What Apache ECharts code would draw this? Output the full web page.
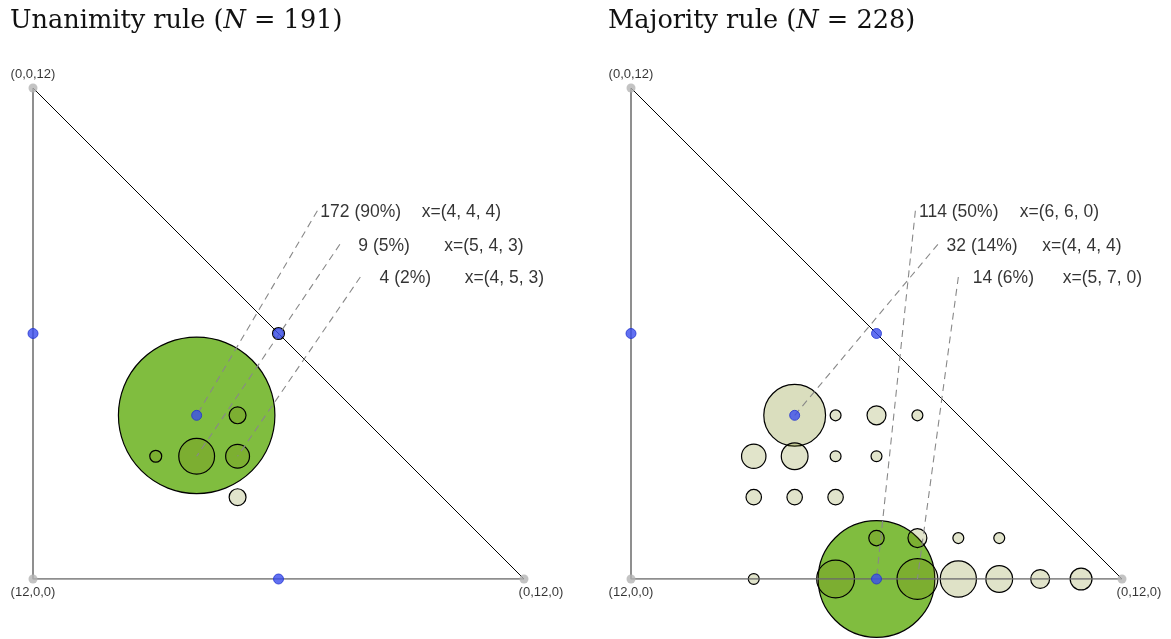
<!DOCTYPE html>
<html>
<head>
<meta charset="utf-8">
<script src="https://cdn.jsdelivr.net/npm/echarts@6/dist/echarts.min.js"></script>
<style>
  html, body { margin: 0; padding: 0; background: #fff; }
  #chart { width: 1171px; height: 639px; }
</style>
</head>
<body>
<div id="chart"></div>
<script>
// 三角形顶点 (a, b, c)，a+b+c=12
const triangleVertices = [[0, 0, 12], [12, 0, 0], [0, 12, 0]];
// 蓝色标记点
const equilibria = [[6, 0, 6], [0, 6, 6], [6, 6, 0], [4, 4, 4]];

// Unanimity rule
const unanimityProfiles = [[4, 4, 4], [5, 4, 3], [4, 5, 3], [3, 5, 4], [6, 3, 3], [5, 5, 2], [0, 6, 6]];
const unanimityCounts = [172, 9, 4, 2, 1, 2, 1];

// Majority rule
const majorityProfiles = [
  [6, 6, 0], [4, 4, 4], [5, 7, 0], [7, 5, 0], [4, 8, 0], [5, 4, 3], [6, 3, 3], [3, 9, 0],
  [1, 11, 0], [2, 6, 4], [4, 7, 1], [2, 10, 0], [7, 3, 2], [6, 4, 2], [5, 5, 2], [5, 6, 1],
  [3, 5, 4], [1, 7, 4], [4, 5, 3], [3, 6, 3], [3, 8, 1], [2, 9, 1], [9, 3, 0]
];
const majorityCounts = [114, 32, 14, 12, 11, 6, 5, 6, 4, 3, 3, 3, 2, 2, 2, 2, 1, 1, 1, 1, 1, 1, 1];

const panelTitles = ['Unanimity rule', 'Majority rule'];

// 布局
const GRID_SIZE = 491;
const gridLefts = [33, 631];
const GRID_TOP = 88;
const unitPx = GRID_SIZE / 12;
const R_SCALE = 2.015 * unitPx;           // 半径 = R_SCALE * sqrt(份额)
const labelRows = [[6.95, 9.0], [7.5, 8.18], [8.0, 7.38]]; // 虚线起点（数据单位）

const panels = [
  { profiles: unanimityProfiles, counts: unanimityCounts },
  { profiles: majorityProfiles, counts: majorityCounts }
];

const grids = [], xAxes = [], yAxes = [], series = [], graphics = [];

const textLabel = {
  show: true, position: 'inside', align: 'center', verticalAlign: 'middle',
  formatter: pr => pr.value[2],
  color: '#000', fontFamily: 'Liberation Sans', fontSize: 17.5
};

panels.forEach((p, i) => {
  const N = p.counts.reduce((s, v) => s + v, 0);
  grids.push({ left: gridLefts[i], top: GRID_TOP, width: GRID_SIZE, height: GRID_SIZE });
  xAxes.push({ gridIndex: i, type: 'value', min: 0, max: 12, show: false });
  yAxes.push({ gridIndex: i, type: 'value', min: 0, max: 12, show: false });

  // 标题
  graphics.push({
    type: 'text', left: gridLefts[i] - 23, top: 8,
    style: {
      text: '{a|' + panelTitles[i] + ' (}{n|N}{a| = ' + N + ')}',
      rich: {
        a: { fontFamily: 'DejaVu Serif', fontSize: 25.6, fill: '#111' },
        n: { fontFamily: 'DejaVu Serif', fontSize: 25.6, fontStyle: 'italic', fill: '#111' }
      }
    }
  });

  const items = p.profiles.map((x, k) => ({ x, n: p.counts[k], share: p.counts[k] / N }));
  const sorted = items.slice().sort((u, v) => v.n - u.n);
  const modal = sorted[0].n;

  // 圆圈
  series.push({
    type: 'scatter', xAxisIndex: i, yAxisIndex: i, z: 2,
    data: sorted.map(d => [d.x[1], d.x[2], d.n, d.share]),
    symbolSize: v => 2 * R_SCALE * Math.sqrt(v[3]),
    itemStyle: {
      color: params => params.value[2] === modal
        ? '#80bd3f'
        : 'rgba(110,125,0,' + (0.2 + params.value[3] * 0.4).toFixed(3) + ')',
      borderColor: '#000', borderWidth: 1.2, opacity: 1
    },
    emphasis: { disabled: true }, silent: true
  });

  // 三角形边
  series.push({
    type: 'line', xAxisIndex: i, yAxisIndex: i, z: 3, symbol: 'none', silent: true,
    data: [[0, 12], [0, 0], [12, 0]],
    lineStyle: { color: '#6a6a6a', width: 1.5 }
  });
  series.push({
    type: 'line', xAxisIndex: i, yAxisIndex: i, z: 3, symbol: 'none', silent: true,
    data: [[0, 12], [12, 0]],
    lineStyle: { color: '#000', width: 1 }
  });

  // 前三名的虚线与标注
  const top3 = sorted.slice(0, 3);
  series.push({
    type: 'lines', coordinateSystem: 'cartesian2d', xAxisIndex: i, yAxisIndex: i, z: 4,
    silent: true,
    data: top3.map((d, k) => ({ coords: [labelRows[k], [d.x[1], d.x[2]]] })),
    lineStyle: { color: '#888', width: 1.1, type: [7, 5], opacity: 1 }
  });
  series.push({
    type: 'scatter', xAxisIndex: i, yAxisIndex: i, z: 6, symbolSize: 0, silent: true,
    data: top3.map((d, k) => [labelRows[k][0] + 1.06 + 0.02 * k, labelRows[k][1] - 0.04,
      d.n + ' (' + Math.round(100 * d.share) + '%)']),
    label: textLabel
  });
  series.push({
    type: 'scatter', xAxisIndex: i, yAxisIndex: i, z: 6, symbolSize: 0, silent: true,
    data: top3.map((d, k) => [labelRows[k][0] + 3.52, labelRows[k][1] - 0.04,
      'x=(' + d.x.join(', ') + ')']),
    label: textLabel
  });

  // 蓝点
  series.push({
    type: 'scatter', xAxisIndex: i, yAxisIndex: i, z: 7, silent: true,
    data: equilibria.map(e => [e[1], e[2]]),
    symbolSize: 10,
    itemStyle: { color: '#3a4cee', borderColor: '#2233d0', borderWidth: 1 }
  });

  // 顶点
  series.push({
    type: 'scatter', xAxisIndex: i, yAxisIndex: i, z: 7, silent: true,
    data: triangleVertices.map(v => {
      const pt = { value: [v[1], v[2], '(' + v.join(',') + ')'] };
      if (v[2] === 12) pt.label = { position: 'top', distance: 3 };
      else if (v[0] === 12) pt.label = { position: 'bottom', distance: 2 };
      else pt.label = { position: 'bottom', distance: 2, offset: [17, 0] };
      return pt;
    }),
    symbolSize: 9,
    itemStyle: { color: '#b4b4b4' },
    label: {
      show: true, formatter: pr => pr.value[2],
      color: '#000', fontFamily: 'Liberation Sans', fontSize: 13
    }
  });
});

const chart = echarts.init(document.getElementById('chart'), null, { renderer: 'canvas' });
chart.setOption({
  animation: false,
  backgroundColor: '#fff',
  grid: grids,
  xAxis: xAxes,
  yAxis: yAxes,
  graphic: graphics,
  series: series
});
window.addEventListener('resize', () => chart.resize());
</script>
</body>
</html>
